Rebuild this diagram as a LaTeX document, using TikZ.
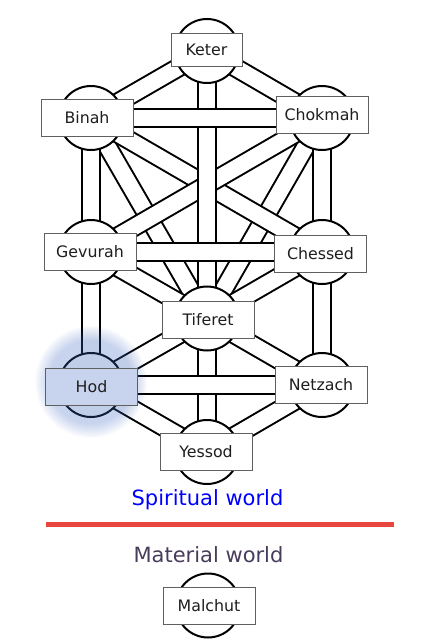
\documentclass[tikz,border=0pt]{standalone}
\usepackage{fontspec}
\setmainfont{DejaVu Sans}
\definecolor{boxgray}{HTML}{606060}
\definecolor{txt}{HTML}{1E1E1E}
\definecolor{redline}{HTML}{E8473F}
\definecolor{matcol}{HTML}{483C5A}
\definecolor{glowc}{RGB}{72,112,198}
\definecolor{hodfill}{HTML}{C8D4EE}
\pgfdeclarelayer{bg}
\pgfsetlayers{bg,main}
\begin{document}
\begin{tikzpicture}[x=1pt,y=-1pt,
 seph/.style={circle, draw=black, line width=2pt, fill=white, minimum size=64pt, inner sep=0pt},
 lbl/.style={draw=boxgray, line width=1pt, fill=white, minimum width=92pt, minimum height=37pt, inner sep=0pt, text=txt, font=\fontsize{15.8}{19}\selectfont, text height=11.5pt, text depth=0pt},
 pipe/.style={draw=black, line width=2pt, double=white, double distance=16pt, line cap=butt},
 world/.style={font=\fontsize{21}{25}\selectfont, anchor=base, inner sep=0pt}
]
\useasboundingbox (0,0) rectangle (422,640);
% sephirot circles
\node[seph] (keter)   at (207,51) {};
\node[seph] (chokmah) at (322,118) {};
\node[seph] (binah)   at (91,118) {};
\node[seph] (chessed) at (322,252) {};
\node[seph] (gevurah) at (91,252) {};
\node[seph] (tiferet) at (207,318.5) {};
\node[seph] (netzach) at (322,385) {};
\node[seph] (hod)     at (91,385) {};
\node[seph] (yessod)  at (207,452) {};
\node[seph] (malchut) at (208,605.5) {};
% paths
\begin{pgfonlayer}{bg}
\draw[pipe] (binah.center) -- (tiferet.center);
\draw[pipe] (chokmah.center) -- (tiferet.center);
\draw[pipe] (binah.center) -- (chessed.center);
\draw[pipe] (chokmah.center) -- (gevurah.center);
\draw[pipe] (keter.center) -- (binah.center);
\draw[pipe] (keter.center) -- (chokmah.center);
\draw[pipe] (gevurah.center) -- (tiferet.center);
\draw[pipe] (chessed.center) -- (tiferet.center);
\draw[pipe] (hod.center) -- (tiferet.center);
\draw[pipe] (netzach.center) -- (tiferet.center);
\draw[pipe] (hod.center) -- (yessod.center);
\draw[pipe] (netzach.center) -- (yessod.center);
\draw[pipe] (keter.center) -- (tiferet.center);
\draw[pipe] (tiferet.center) -- (yessod.center);
\draw[pipe] (binah.center) -- (gevurah.center);
\draw[pipe] (gevurah.center) -- (hod.center);
\draw[pipe] (chokmah.center) -- (chessed.center);
\draw[pipe] (chessed.center) -- (netzach.center);
\draw[pipe] (binah.center) -- (chokmah.center);
\draw[pipe] (gevurah.center) -- (chessed.center);
\draw[pipe] (hod.center) -- (netzach.center);
\end{pgfonlayer}
% glow around Hod
\foreach \r in {42,...,56} \fill[glowc, opacity=0.024] (91,382) circle[radius=\r pt];
% labels
\node[lbl, minimum width=71pt, minimum height=33pt] (keterL) at (206.5,49.5) {Keter};
\node[lbl] (binahL)   at (87,117.5) {Binah};
\node[lbl] (chokmahL) at (322,115) {Chokmah};
\node[lbl] (gevurahL) at (90,251.5) {Gevurah};
\node[lbl] (chessedL) at (320.5,253.5) {Chessed};
\node[lbl] (tiferetL) at (208,319.5) {Tiferet};
\node[lbl, fill=hodfill] (hodL) at (91.5,386.5) {Hod};
\node[lbl] (netzachL) at (321,384.5) {Netzach};
\node[lbl] (yessodL)  at (206,451.5) {Yessod};
\node[lbl] (malchutL) at (209,605.5) {Malchut};
% worlds
\node[world, text=blue] (spiritual) at (207.5,505) {Spiritual world};
\draw[redline, line width=5pt] (46,524.3) -- (394,524.3);
\node[world, text=matcol] (material) at (208.5,562) {Material world};
\end{tikzpicture}
\end{document}
